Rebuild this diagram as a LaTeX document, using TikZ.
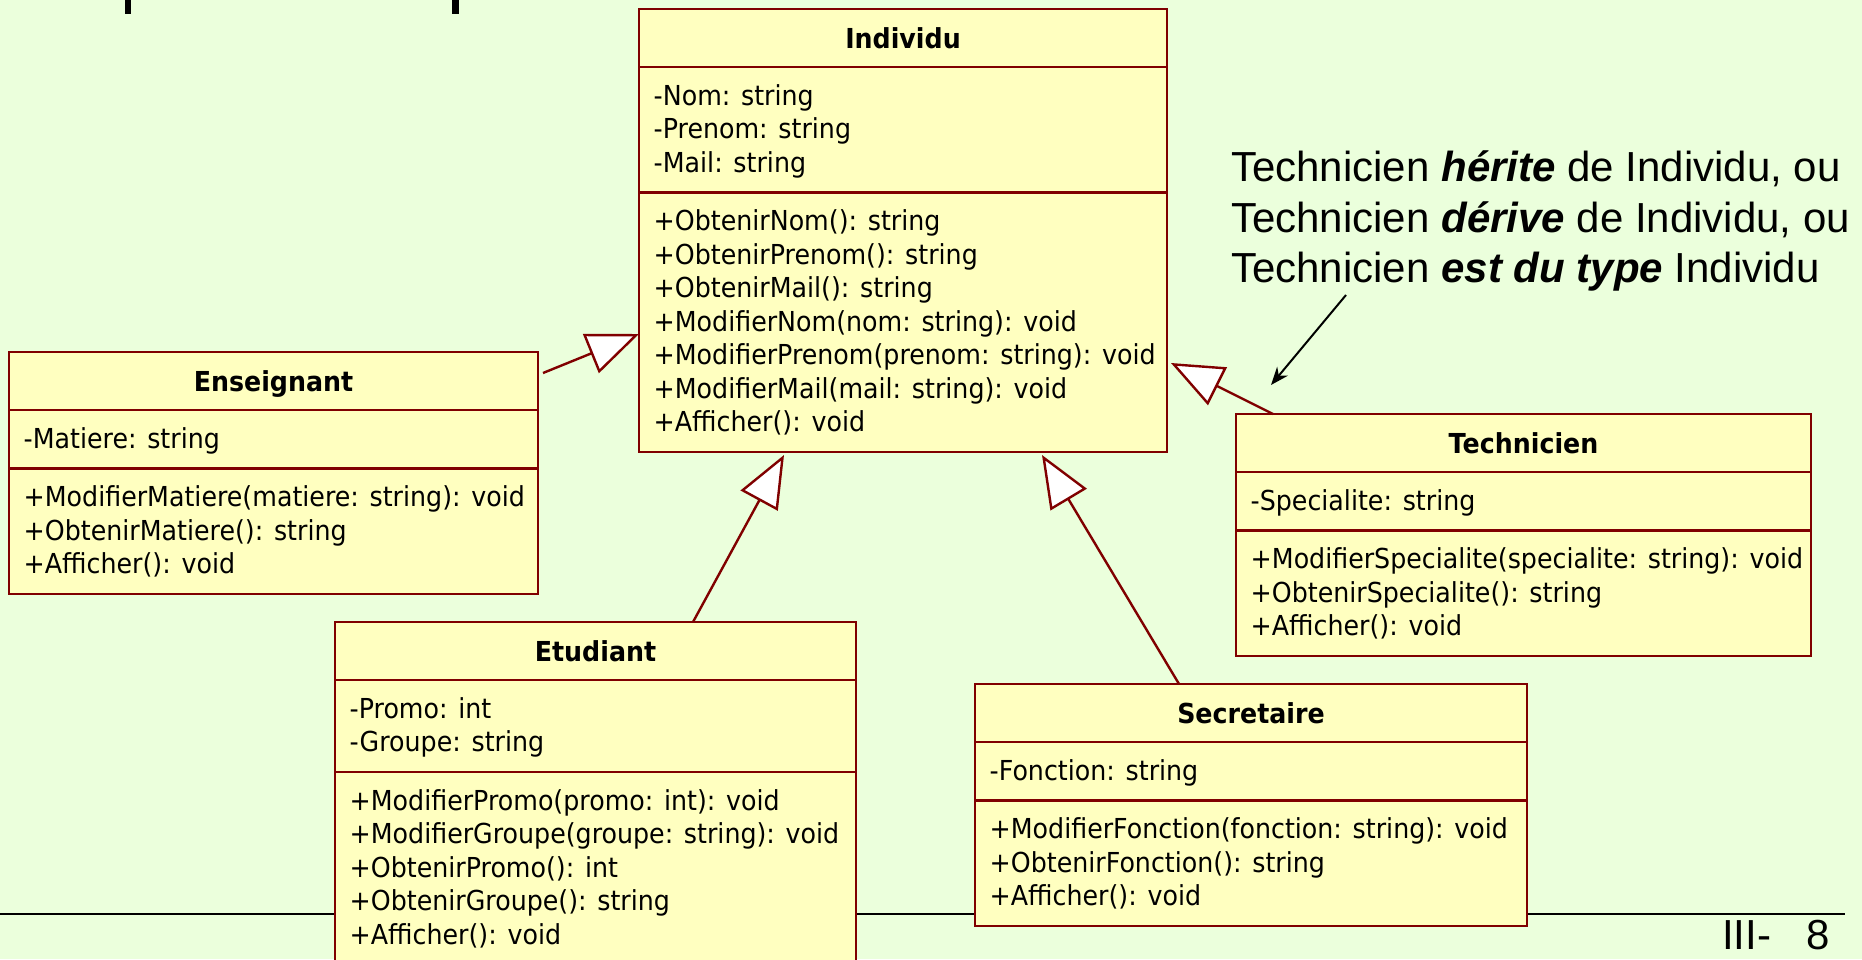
\documentclass[tikz,border=0pt]{standalone}
\usepackage{fontspec}
\usetikzlibrary{arrows.meta,calc}
\newfontfamily\umlfont[FakeStretch=0.92]{DejaVu Sans}
\newfontfamily\notefont{Liberation Sans}
\definecolor{slidebg}{RGB}{235,255,220}
\definecolor{classfill}{RGB}{255,255,192}
\definecolor{classedge}{RGB}{128,0,0}

\tikzset{
  classbox/.style={rectangle, draw=classedge, fill=classfill, line width=2.4pt, inner sep=0pt, outer sep=0pt},
  classrule/.style={draw=classedge, line width=2.4pt},
  classtitle/.style={font=\umlfont\fontsize{27.5}{33.5}\selectfont\bfseries, inner sep=0pt, anchor=base},
  member/.style={font=\umlfont\fontsize{27.5}{33.5}\selectfont, inner sep=0pt, anchor=base west},
  inherit/.style={draw=classedge, line width=2.4pt, -{Triangle[length=52pt,width=42pt,fill=white]}},
  notetext/.style={font=\notefont\fontsize{42}{51.5}\selectfont, inner sep=0pt, anchor=base west},
  pointer/.style={draw=black, line width=2pt, -{Stealth[length=18pt,width=14pt]}},
}

% UML class: name, x, y (top left), width, title, #attributes, attributes, #methods, methods
\newcommand\umlclass[9]{%
  \pgfmathsetmacro\attrh{25+33.5*#6}%
  \pgfmathsetmacro\methh{25+33.5*#8}%
  \pgfmathsetmacro\boxh{58+\attrh+\methh}%
  \node[classbox, minimum width=#4pt, minimum height=\boxh pt, anchor=north west] (#1) at (#2,#3) {};
  \draw[classrule] ($(#1.north west)+(0,58)$) -- ($(#1.north east)+(0,58)$);
  \draw[classrule] ($(#1.north west)+(0,{58+\attrh})$) -- ($(#1.north east)+(0,{58+\attrh})$);
  \node[classtitle] (#1-title) at ($(#1.north)+(0,39)$) {#5};
  \foreach \mtext [count=\i] in {#7}
    \node[member] (#1-attr\i) at ($(#1.north west)+(14.5,{96+33.5*(\i-1)})$) {\mtext};
  \foreach \mtext [count=\i] in {#9}
    \node[member] (#1-meth\i) at ($(#1.north west)+(14.5,{96+\attrh+33.5*(\i-1)})$) {\mtext};
}

\begin{document}
\begin{tikzpicture}[x=1pt,y=-1pt]
\useasboundingbox (0,0) rectangle (1862,959);
\clip (0,0) rectangle (1862,959);
\fill[slidebg] (0,0) rectangle (1862,959);

% remains of the slide title above the frame
\fill[black] (124.5,0) rectangle (130.5,14);
\fill[black] (452,0) rectangle (458.5,14);

% footer rule and page number
\draw[line width=2.4pt] (0,914) -- (1845,914);
\node[notetext] (pgA) at (1722,949) {III-};
\node[notetext] (pgB) at (1806,949) {8};

% classes
\umlclass{ind}{639}{9}{528}{Individu}{3}{-Nom: string,-Prenom: string,-Mail: string}{7}{+ObtenirNom(): string,+ObtenirPrenom(): string,+ObtenirMail(): string,+ModifierNom(nom: string): void,+ModifierPrenom(prenom: string): void,+ModifierMail(mail: string): void,+Afficher(): void}
\umlclass{ens}{9}{352}{529}{Enseignant}{1}{-Matiere: string}{3}{+ModifierMatiere(matiere: string): void,+ObtenirMatiere(): string,+Afficher(): void}
\umlclass{etu}{335}{622}{521}{Etudiant}{2}{-Promo: int,-Groupe: string}{5}{+ModifierPromo(promo: int): void,+ModifierGroupe(groupe: string): void,+ObtenirPromo(): int,+ObtenirGroupe(): string,+Afficher(): void}
\umlclass{sec}{975}{684}{552}{Secretaire}{1}{-Fonction: string}{3}{+ModifierFonction(fonction: string): void,+ObtenirFonction(): string,+Afficher(): void}
\umlclass{tec}{1236}{414}{575}{Technicien}{1}{-Specialite: string}{3}{+ModifierSpecialite(specialite: string): void,+ObtenirSpecialite(): string,+Afficher(): void}

% generalisation links
\draw[inherit] ($(ens.north east)+(5,21)$) -- ($(ind.north west)+(0,325)$);
\draw[inherit] ($(etu.north west)+(358,0)$) -- ($(ind.south west)+(145,3)$);
\draw[inherit] ($(sec.north west)+(204,0)$) -- ($(ind.south west)+(403,3)$);
\draw[inherit] ($(tec.north west)+(37,0)$) -- ($(ind.north east)+(4,354)$);

% annotation
\node[notetext] (noteA) at (1231,181) {Technicien \textbf{\textit{hérite}} de Individu, ou};
\node[notetext] (noteB) at (1231,232) {Technicien \textbf{\textit{dérive}} de Individu, ou};
\node[notetext] (noteC) at (1231,282) {Technicien \textbf{\textit{est du type}} Individu};
\coordinate (ptrStart) at (1346,295);
\coordinate (ptrEnd) at (1271,385);
\draw[pointer] (ptrStart) -- (ptrEnd);
\end{tikzpicture}
\end{document}
